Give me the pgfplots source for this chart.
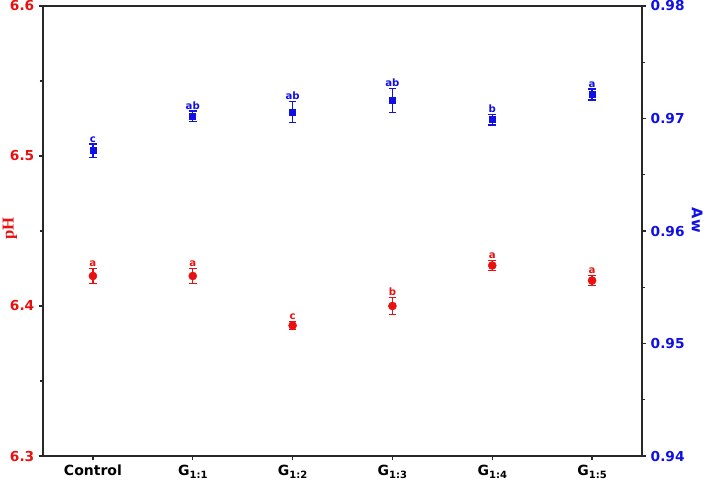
\documentclass[border=0pt]{standalone}
\usepackage{pgfplots}
\pgfplotsset{compat=1.18}
\usepackage{pgfplotstable}
\usepackage{fontspec}
\setmainfont{DejaVu Sans}
\newfontfamily\labelserif{Liberation Serif}

\definecolor{phred}{RGB}{232,16,16}
\definecolor{awblue}{RGB}{16,16,230}
\definecolor{axisgray}{RGB}{40,40,40}

% pH: mean, standard deviation, significance letter
\pgfplotstableread{
x y err lab
0 6.420 0.0050 a
1 6.420 0.0050 a
2 6.387 0.0027 c
3 6.400 0.0056 b
4 6.427 0.0032 a
5 6.417 0.0032 a
}\phdata

% water activity: mean, standard deviation, significance letter
\pgfplotstableread{
x y err lab
0 0.96714 0.00060 c
1 0.97020 0.00045 ab
2 0.97058 0.00092 ab
3 0.97159 0.00107 ab
4 0.96990 0.00047 b
5 0.97215 0.00049 a
}\awdata

\newcommand\gsub[1]{G\raisebox{-0.4ex}{\fontsize{7.5}{8}\selectfont\bfseries #1}}

\pgfplotsset{
  common/.style={
    width=449.25pt, height=337.5pt, scale only axis,
    at={(0,0)}, anchor=south west,
    xmin=-0.5, xmax=5.5,
    axis line style={axisgray, line width=1pt},
    tick style={axisgray, line width=0.9pt},
    tick align=outside,
    major tick length=3pt, minor tick length=2.6pt,
    /pgf/number format/assume math mode=true,
    clip=false,
  },
  labels/.style={
    draw=none, mark=none,
    nodes near coords, point meta=explicit symbolic,
    nodes near coords style={anchor=south, inner sep=1pt,
      font=\fontsize{7.6}{9}\selectfont\bfseries, text=#1},
  },
}

\begin{document}
\begin{tikzpicture}
% left axis: pH
\begin{axis}[common,
  ymin=6.3, ymax=6.6,
  ytick={6.3,6.4,6.5,6.6}, minor ytick={6.35,6.45,6.55},
  ytick pos=left, xtick pos=bottom,
  xtick={0,...,5},
  xticklabels={Control,\gsub{1:1},\gsub{1:2},\gsub{1:3},\gsub{1:4},\gsub{1:5}},
  xticklabel style={font=\fontsize{10.5}{12}\selectfont\bfseries, text=black},
  yticklabel style={font=\fontsize{10.3}{12}\selectfont\bfseries, text=phred,
    /pgf/number format/.cd, fixed, precision=1, fixed zerofill},
  ylabel={pH},
  ylabel style={font=\labelserif\bfseries\fontsize{12.5}{14}\selectfont, text=phred,
    at={(axis description cs:-0.055,0.505)}, anchor=center},
]
\addplot[phred, mark=*, mark size=3pt, only marks,
  error bars/.cd, y dir=both, y explicit,
  error bar style={line width=1.1pt, phred},
  error mark options={rotate=90, mark size=2.9pt, line width=1.1pt, phred}]
  table[x=x, y=y, y error=err]{\phdata};
\addplot[labels=phred] table[x=x, y expr=\thisrow{y}+\thisrow{err}, meta=lab]{\phdata};
\end{axis}

% right axis: water activity
\begin{axis}[common,
  ymin=0.94, ymax=0.98,
  ytick={0.94,0.95,0.96,0.97,0.98}, minor ytick={0.945,0.955,0.965,0.975},
  axis y line*=right, axis x line=none,
  yticklabel style={font=\fontsize{10.3}{12}\selectfont\bfseries, text=awblue,
    /pgf/number format/.cd, fixed, precision=2, fixed zerofill},
  ylabel={Aw},
  ylabel style={font=\fontsize{11}{13}\selectfont\bfseries, text=awblue,
    rotate=180, at={(axis description cs:1.092,0.524)}, anchor=center},
]
\addplot[awblue, mark=square*, mark size=2.25pt, only marks,
  error bars/.cd, y dir=both, y explicit,
  error bar style={line width=1.1pt, awblue},
  error mark options={rotate=90, mark size=2.9pt, line width=1.1pt, awblue}]
  table[x=x, y=y, y error=err]{\awdata};
\addplot[labels=awblue] table[x=x, y expr=\thisrow{y}+\thisrow{err}, meta=lab]{\awdata};
\end{axis}

\pgfresetboundingbox
\useasboundingbox (-32.25pt,-22.5pt) rectangle (499.5pt,342pt);
\end{tikzpicture}
\end{document}
